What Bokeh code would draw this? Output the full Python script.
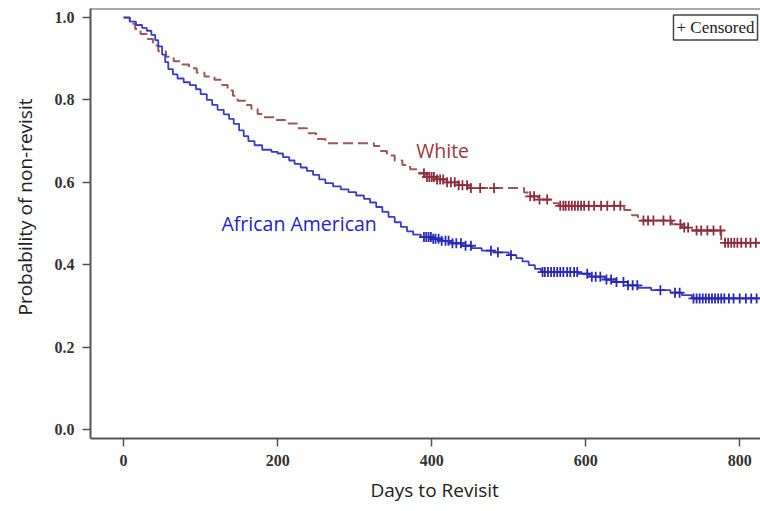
import numpy as np
from bokeh.plotting import figure
from bokeh.models import Range1d, Label, Span, FixedTicker, PrintfTickFormatter, Title
from bokeh.embed import file_html
from bokeh.resources import INLINE

# ---- data ----
aa_t = [0, 8, 16, 24, 30, 36, 41, 45, 50, 54, 58, 64, 70, 78, 86, 94, 100, 108, 115, 122,
        130, 137, 143, 150, 156, 162, 170, 180, 192, 200, 207, 215, 222, 230, 238, 246, 254,
        262, 272, 282, 292, 302, 312, 320, 328, 336, 344, 352, 360, 368, 376, 386, 400, 412,
        425, 440, 452, 465, 480, 500, 510, 518, 526, 534, 542, 590, 605, 625, 640, 655, 668,
        685, 710, 725, 738, 830]
aa_s = [1.0, 0.99, 0.982, 0.975, 0.968, 0.958, 0.945, 0.930, 0.910, 0.892, 0.875, 0.862,
        0.852, 0.843, 0.836, 0.826, 0.814, 0.800, 0.788, 0.776, 0.765, 0.754, 0.742, 0.726,
        0.712, 0.700, 0.690, 0.679, 0.674, 0.670, 0.661, 0.653, 0.645, 0.636, 0.628, 0.618,
        0.607, 0.598, 0.590, 0.583, 0.576, 0.568, 0.560, 0.551, 0.540, 0.528, 0.516, 0.503,
        0.492, 0.481, 0.473, 0.467, 0.463, 0.458, 0.452, 0.446, 0.440, 0.434, 0.430, 0.423,
        0.416, 0.408, 0.399, 0.390, 0.382, 0.378, 0.371, 0.364, 0.358, 0.350, 0.344, 0.338,
        0.332, 0.326, 0.318, 0.318]
aa_cens = [390, 393, 396, 399, 402, 405, 409, 413, 418, 422, 427, 432, 438, 444, 451, 477,
           486, 503, 544, 547, 551, 555, 559, 563, 567, 571, 576, 580, 585, 589, 602, 608,
           613, 619, 627, 633, 640, 649, 655, 661, 667, 697, 716, 722, 740, 744, 748, 752,
           756, 760, 764, 768, 772, 776, 780, 786, 792, 800, 808, 815, 822]

wh_t = [0, 8, 15, 22, 30, 38, 45, 55, 65, 75, 85, 95, 105, 118, 128, 135, 142, 148, 158,
        166, 174, 182, 195, 210, 225, 238, 250, 262, 325, 332, 342, 352, 362, 372, 382, 392,
        405, 420, 435, 448, 520, 528, 538, 555, 565, 650, 660, 668, 712, 725, 738, 776, 830]
wh_s = [1.0, 0.985, 0.972, 0.96, 0.948, 0.932, 0.918, 0.905, 0.894, 0.886, 0.877, 0.866,
        0.857, 0.849, 0.836, 0.823, 0.810, 0.798, 0.788, 0.778, 0.766, 0.758, 0.751, 0.743,
        0.731, 0.719, 0.705, 0.695, 0.688, 0.676, 0.665, 0.653, 0.642, 0.632, 0.622, 0.613,
        0.607, 0.600, 0.593, 0.586, 0.575, 0.566, 0.558, 0.549, 0.543, 0.533, 0.520, 0.507,
        0.498, 0.490, 0.483, 0.453, 0.453]
wh_cens = [390, 394, 397, 400, 403, 407, 411, 415, 420, 425, 430, 435, 440, 446, 451, 463,
           481, 528, 533, 540, 550, 567, 571, 574, 578, 582, 586, 590, 594, 598, 604, 611,
           620, 628, 637, 645, 675, 681, 688, 701, 710, 723, 728, 733, 744, 750, 758, 766,
           775, 781, 785, 789, 793, 797, 802, 808, 814, 821]

x_ticks = [0, 200, 400, 600, 800]
y_ticks = [0.0, 0.2, 0.4, 0.6, 0.8, 1.0]


def at(t, s, c):
    t = np.asarray(t); s = np.asarray(s)
    idx = np.searchsorted(t, np.asarray(c), side="right") - 1
    return s[idx]


BLUE = "#3c3cc8"
BLUE_MARK = "#2a2ab8"
BROWN = "#a0585a"
BROWN_MARK = "#8e2f3c"
AXIS = "#555555"
SANS = "Open Sans"

p = figure(width=760, height=511, output_backend="svg", toolbar_location=None,
           x_range=Range1d(-43, 827), y_range=Range1d(-0.022, 1.022),
           min_border_left=90, min_border_right=0, min_border_top=8, min_border_bottom=73)
p.outline_line_color = None
p.xgrid.visible = False
p.ygrid.visible = False
p.background_fill_color = "white"

for ax in (p.xaxis[0], p.yaxis[0]):
    ax.axis_line_color = AXIS
    ax.axis_line_width = 2
    ax.major_tick_line_color = AXIS
    ax.major_tick_line_width = 1.5
    ax.major_tick_in = 0
    ax.major_tick_out = 8
    ax.minor_tick_line_color = None
    ax.major_label_text_font = "Liberation Serif"
    ax.major_label_text_font_style = "bold"
    ax.major_label_text_font_size = "16px"
    ax.major_label_text_color = "#333333"
    ax.major_label_standoff = 8

p.xaxis.ticker = FixedTicker(ticks=x_ticks)
p.yaxis.ticker = FixedTicker(ticks=y_ticks)
p.yaxis.formatter = PrintfTickFormatter(format="%.1f")

p.add_layout(Span(location=1.022, dimension="width", line_color=AXIS, line_width=2))

p.step(wh_t, wh_s, mode="after", line_color=BROWN, line_width=2, line_dash="10 5")
p.step(aa_t, aa_s, mode="after", line_color=BLUE, line_width=1.8)

p.scatter(wh_cens, at(wh_t, wh_s, wh_cens), marker="cross", size=10,
          line_color=BROWN_MARK, line_width=1.8)
p.scatter(aa_cens, at(aa_t, aa_s, aa_cens), marker="cross", size=10,
          line_color=BLUE_MARK, line_width=1.8)

p.add_layout(Label(x=380, y=0.677, text="White", text_font=SANS,
                   text_font_size="19.5px", text_color="#9a3a3a", text_baseline="middle"))
p.add_layout(Label(x=127, y=0.50, text="African American", text_font=SANS,
                   text_font_size="19.5px", text_color="#2424c8", text_baseline="middle"))

p.add_layout(Title(text="Days to Revisit", text_font=SANS, text_font_size="19px",
                   text_font_style="normal", text_color="#222222", align="left",
                   offset=280, standoff=13), "below")
p.add_layout(Title(text="Probability of non-revisit", text_font=SANS, text_font_size="19px",
                   text_font_style="normal", text_color="#222222", align="left",
                   vertical_align="top", offset=123, standoff=23), "left")

p.add_layout(Label(x=714, y=1.006, text="+ Censored", text_font="Liberation Serif",
                   text_font_size="17px", text_color="#222222", text_baseline="top",
                   border_line_color="#444444", border_line_width=1.5,
                   background_fill_color="white", padding=3))

open("out.html", "w").write(file_html(p, INLINE))
